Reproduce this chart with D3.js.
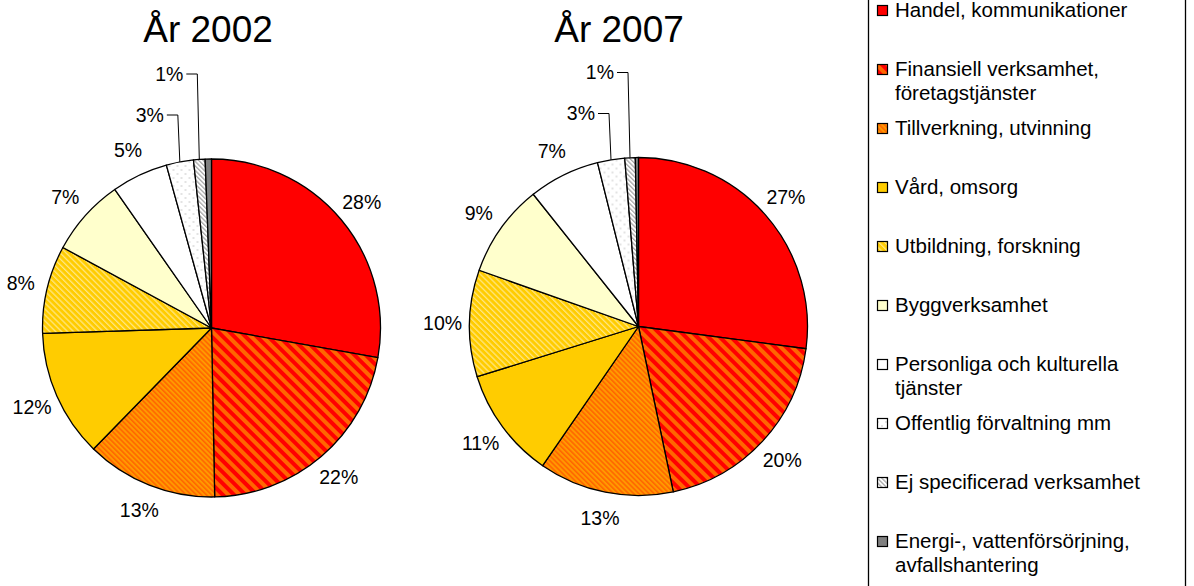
<!DOCTYPE html>
<html>
<head>
<meta charset="utf-8">
<script src="https://cdn.jsdelivr.net/npm/d3@7"></script>
<style>
  body { margin: 0; background: #fff; }
  text { font-family: "Liberation Sans", Arial, sans-serif; fill: #000; }
</style>
</head>
<body>
<script>
let w = 1194;
let h = 586;

// sectors, in the order they run clockwise from 12 o'clock
let categories = [
  "Handel, kommunikationer",
  "Finansiell verksamhet, företagstjänster",
  "Tillverkning, utvinning",
  "Vård, omsorg",
  "Utbildning, forskning",
  "Byggverksamhet",
  "Personliga och kulturella tjänster",
  "Offentlig förvaltning mm",
  "Ej specificerad verksamhet",
  "Energi-, vattenförsörjning, avfallshantering"
];

// share of employed, percent
let values2002 = [27.8, 21.9, 12.6, 12.2, 8.4, 7.4, 5.4, 2.6, 1.1, 0.6];
let values2007 = [27.1, 19.6, 12.9, 10.6, 10.2, 8.9, 6.8, 2.6, 1.0, 0.3];

let titles = ["År 2002", "År 2007"];

// one fill per sector, some of them patterns defined below
let fills = [
  "#ff0000",
  "url(#patFinans)",
  "url(#patTillv)",
  "#ffcc00",
  "url(#patUtb)",
  "#ffffcc",
  "#ffffff",
  "url(#patDots)",
  "url(#patHatch)",
  "#808080"
];

let r = 169;
let labelPad = 27;

let svg = d3.select("body").append("svg")
  .attr("width", w)
  .attr("height", h);

// patterns
let defs = svg.append("defs");

function stripes(id, base, stripe, period, width) {
  let p = defs.append("pattern")
    .attr("id", id)
    .attr("patternUnits", "userSpaceOnUse")
    .attr("width", period)
    .attr("height", period)
    .attr("patternTransform", "rotate(-45)");
  p.append("rect").attr("width", period).attr("height", period).attr("fill", base);
  p.append("rect").attr("width", width).attr("height", period).attr("fill", stripe);
}
stripes("patFinans", "#ff6600", "#ff0000", 8, 4);
stripes("patTillv", "#ff9900", "#ff6600", 3.6, 1.6);
stripes("patUtb", "#ffcc00", "#ffe680", 4.2, 1.3);
stripes("patHatch", "#ffffff", "#a8a8a8", 3.2, 1.3);

let dots = defs.append("pattern")
  .attr("id", "patDots")
  .attr("patternUnits", "userSpaceOnUse")
  .attr("width", 8)
  .attr("height", 8);
dots.append("rect").attr("width", 8).attr("height", 8).attr("fill", "#fff");
dots.append("circle").attr("cx", 2).attr("cy", 2).attr("r", 0.8).attr("fill", "#c0c0c0");
dots.append("circle").attr("cx", 6).attr("cy", 6).attr("r", 0.8).attr("fill", "#c0c0c0");

let pie = d3.pie().sort(null).value((d) => d);
let arc = d3.arc().innerRadius(0).outerRadius(r);

let pies = [
  { title: titles[0], values: values2002, cx: 211.5, cy: 328, tx: 208 },
  { title: titles[1], values: values2007, cx: 638.5, cy: 326.5, tx: 619 }
];

let pct = (v) => Math.round(v) + "%";

pies.forEach((p) => {
  svg.append("text")
    .attr("x", p.tx)
    .attr("y", 42)
    .attr("text-anchor", "middle")
    .style("font-size", "37px")
    .text(p.title);

  let g = svg.append("g").attr("transform", `translate(${p.cx},${p.cy})`);
  let arcs = pie(p.values);

  g.selectAll(".slice")
    .data(arcs)
    .enter()
    .append("path")
    .classed("slice", true)
    .attr("d", arc)
    .attr("fill", (d, i) => fills[i])
    .attr("stroke", "#000")
    .attr("stroke-width", 1.3)
    .attr("stroke-linejoin", "round");

  // big slices: label just outside the rim
  let big = arcs.filter((d) => d.value >= 4);
  g.selectAll(".lbl")
    .data(big)
    .enter()
    .append("text")
    .classed("lbl", true)
    .attr("x", (d) => Math.sin((d.startAngle + d.endAngle) / 2) * (r + labelPad))
    .attr("y", (d) => -Math.cos((d.startAngle + d.endAngle) / 2) * (r + labelPad))
    .attr("dy", "0.35em")
    .attr("text-anchor", "middle")
    .style("font-size", "19.5px")
    .text((d) => pct(d.value));

  // thin slices: leader line up from the rim, stacked above the pie
  let small = arcs.filter((d) => d.value < 4 && d.value >= 1);
  small.forEach((d, j) => {
    let a = (d.startAngle + d.endAngle) / 2;
    let x0 = Math.sin(a) * r;
    let y0 = -Math.cos(a) * r;
    let ly = -r - 44 - j * 41;
    g.append("polyline")
      .attr("points", `${x0},${y0} ${x0 - 2},${ly} ${x0 - 13},${ly}`)
      .attr("fill", "none")
      .attr("stroke", "#000")
      .attr("stroke-width", 1);
    g.append("text")
      .attr("x", x0 - 16)
      .attr("y", ly)
      .attr("dy", "0.35em")
      .attr("text-anchor", "end")
      .style("font-size", "19.5px")
      .text(pct(d.value));
  });
});

// legend box, runs off the top and bottom of the picture
let legend = svg.append("g");
legend.append("rect")
  .attr("x", 868.5)
  .attr("y", -10)
  .attr("width", 317)
  .attr("height", h + 20)
  .attr("fill", "#fff")
  .attr("stroke", "#000")
  .attr("stroke-width", 1.3);

let legendY = d3.scaleLinear().domain([0, 1]).range([10.5, 69.5]);
let wrapWidth = 270;

categories.forEach((c, i) => {
  let y = legendY(i);
  legend.append("rect")
    .attr("x", 877.5)
    .attr("y", y - 5)
    .attr("width", 10)
    .attr("height", 10)
    .attr("fill", fills[i])
    .attr("stroke", "#000")
    .attr("stroke-width", 1.2);

  let t = legend.append("text")
    .attr("x", 895)
    .attr("y", y + 6.5)
    .style("font-size", "20.5px");

  // word wrap to the box width
  let words = c.split(" ");
  let line = [];
  let tspan = t.append("tspan").attr("x", 895);
  words.forEach((wd) => {
    line.push(wd);
    tspan.text(line.join(" "));
    if (tspan.node().getComputedTextLength() > wrapWidth && line.length > 1) {
      line.pop();
      tspan.text(line.join(" "));
      line = [wd];
      tspan = t.append("tspan").attr("x", 895).attr("dy", 24).text(wd);
    }
  });
});
</script>
</body>
</html>
